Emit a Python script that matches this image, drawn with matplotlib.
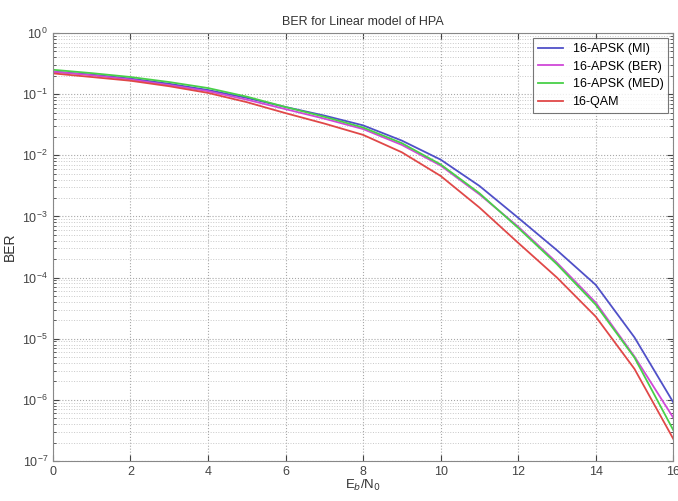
import matplotlib
matplotlib.use("Agg")
import matplotlib.pyplot as plt
from matplotlib.ticker import LogLocator, NullFormatter

ebn0 = [0, 1, 2, 3, 4, 5, 6, 7, 8, 9, 10, 11, 12, 13, 14, 15, 16]

ber_apsk_mi = [0.234, 0.209, 0.180, 0.148, 0.117, 0.087, 0.0617, 0.0447, 0.0309,
               0.0174, 8.5e-3, 3.16e-3, 9.5e-4, 2.8e-4, 7.6e-5, 1.05e-5, 9.1e-7]
ber_apsk_ber = [0.234, 0.204, 0.174, 0.141, 0.112, 0.0813, 0.0569, 0.0398, 0.0269,
                0.0148, 6.8e-3, 2.3e-3, 6.8e-4, 1.75e-4, 3.9e-5, 5.1e-6, 5.1e-7]
ber_apsk_med = [0.251, 0.221, 0.191, 0.158, 0.126, 0.0912, 0.0617, 0.0427, 0.0285,
                0.0158, 7.1e-3, 2.4e-3, 6.5e-4, 1.65e-4, 3.6e-5, 4.9e-6, 3.2e-7]
ber_qam = [0.219, 0.191, 0.166, 0.135, 0.105, 0.0741, 0.049, 0.0331, 0.0216,
           0.0112, 4.6e-3, 1.4e-3, 3.7e-4, 1.0e-4, 2.3e-5, 3.2e-6, 2.3e-7]

series_labels = ["16-APSK (MI)", "16-APSK (BER)", "16-APSK (MED)", "16-QAM"]
xticks = [0, 2, 4, 6, 8, 10, 12, 14, 16]

plt.rcParams['font.family'] = ['Liberation Sans', 'DejaVu Sans']

fig = plt.figure(figsize=(6.78, 5.01), dpi=100)
ax = fig.add_axes([0.078, 0.080, 0.915, 0.854])

colors = ["#5050c8", "#d048d8", "#48d048", "#e04848"]
for y, lab, c in zip([ber_apsk_mi, ber_apsk_ber, ber_apsk_med, ber_qam], series_labels, colors):
    ax.semilogy(ebn0, y, color=c, lw=1.3, label=lab)

ax.set_xlim(0, 16)
ax.set_ylim(1e-7, 1e0)
ax.set_xticks(xticks)
ax.yaxis.set_major_locator(LogLocator(base=10, numticks=10))
ax.yaxis.set_minor_locator(LogLocator(base=10, subs=range(2, 10), numticks=100))
ax.yaxis.set_minor_formatter(NullFormatter())

ax.grid(True, which='major', color='#a8a8a8', linestyle=':', linewidth=0.8)
ax.grid(True, which='minor', axis='y', color='#c8c8c8', linestyle=':', linewidth=0.7)

ax.tick_params(which='both', direction='in', top=True, right=True, colors='#444444', labelsize=9)
ax.tick_params(which='major', length=4)
ax.tick_params(which='minor', length=2)
for sp in ax.spines.values():
    sp.set_color('#888888')

ax.set_title("BER for Linear model of HPA", fontsize=9, color='#333333', pad=6)
ax.set_ylabel("BER", fontsize=10, color='#333333')
ax.set_xlabel("E$_b$/N$_0$", fontsize=9.5, color='#333333', labelpad=0)

leg = ax.legend(loc='upper right', fontsize=9, frameon=True, fancybox=False,
                borderaxespad=0.4, handlelength=2.0, labelspacing=0.45)
leg.get_frame().set_edgecolor('#555555')
leg.get_frame().set_linewidth(0.8)

fig.savefig("out.png", dpi=100)
